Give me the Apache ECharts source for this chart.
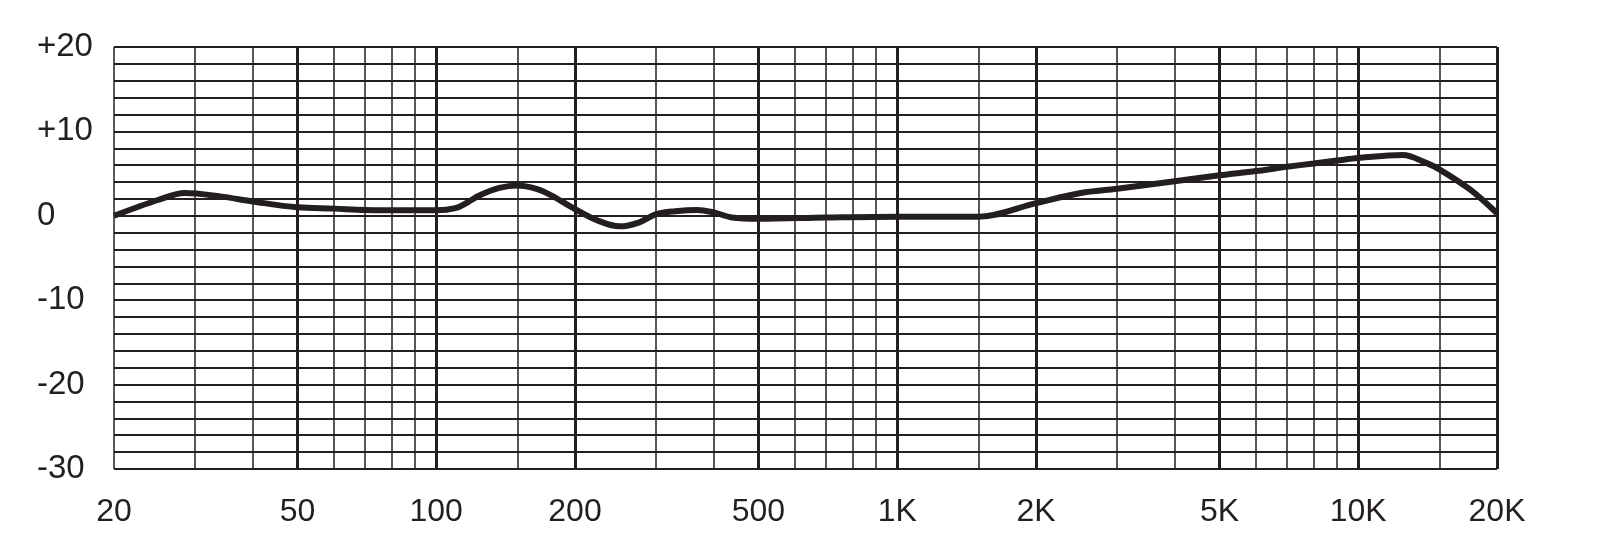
<!DOCTYPE html>
<html>
<head>
<meta charset="utf-8">
<script src="https://cdn.jsdelivr.net/npm/echarts@6/dist/echarts.min.js"></script>
<style>
  html, body { margin: 0; padding: 0; background: #fff; }
  #main { width: 1600px; height: 551px; }
</style>
</head>
<body>
<div id="main"></div>
<script>
// frequency response
const freqs = [20, 25, 28.5, 34, 40, 50, 60, 70, 85, 100, 110, 117, 124, 137, 150, 165, 178, 200, 225, 250, 275, 300, 330, 368, 400, 438, 500, 700, 1000, 1500, 2000, 2500, 3000, 4000, 5000, 6000, 7000, 8000, 9000, 10000, 12500, 14000, 15000, 17500, 20000]
const levels = [0, 1.9, 2.7, 2.3, 1.7, 1.0, 0.85, 0.7, 0.65, 0.65, 0.9, 1.6, 2.4, 3.3, 3.6, 3.2, 2.4, 0.8, -0.6, -1.25, -0.8, 0.2, 0.55, 0.7, 0.4, -0.2, -0.35, -0.2, -0.1, -0.1, 1.5, 2.7, 3.2, 4.1, 4.8, 5.3, 5.8, 6.2, 6.55, 6.85, 7.2, 6.3, 5.5, 3.1, 0.3]

// grid lines and labels
const xMinor = [20, 30, 40, 60, 70, 80, 90, 150, 300, 400, 600, 700, 800, 900, 1500, 3000, 4000, 6000, 7000, 8000, 9000, 15000]
const xMajor = [50, 100, 200, 500, 1000, 2000, 5000, 10000, 20000]
const xLabelValues = [20, 50, 100, 200, 500, 1000, 2000, 5000, 10000, 20000]
const yLabelValues = [-30, -20, -10, 0, 10, 20]

const ink = '#231f20'
const font = '"Liberation Sans", Arial, sans-serif'

let chart = echarts.init(document.getElementById('main'))
chart.setOption({
  animation: false,
  grid: {
    left: 114,
    right: 103,
    top: 47,
    bottom: 82,
    outerBoundsMode: 'none'
  },
  xAxis: [{
    type: 'log',
    position: 'bottom',
    min: 20,
    max: 20000,
    axisLine: { show: false },
    axisTick: { show: false, customValues: xMinor },
    axisLabel: { show: false },
    splitLine: { show: true, lineStyle: { color: ink, width: 1.5 } }
  }, {
    type: 'log',
    position: 'bottom',
    min: 20,
    max: 20000,
    axisLine: { show: false },
    axisTick: { show: false, customValues: xMajor },
    axisLabel: {
      customValues: xLabelValues,
      margin: 27,
      color: ink,
      fontSize: 32,
      fontFamily: font,
      formatter: function (v) {
        return v >= 1000 ? (v / 1000) + 'K' : String(v)
      }
    },
    splitLine: { show: true, lineStyle: { color: ink, width: 3 } }
  }],
  yAxis: {
    type: 'value',
    min: -30,
    max: 20,
    interval: 2,
    axisLine: { show: false },
    axisTick: { show: false },
    axisLabel: {
      customValues: yLabelValues,
      align: 'left',
      margin: 77,
      color: ink,
      fontSize: 33,
      fontFamily: font,
      formatter: function (v) {
        return v > 0 ? '+' + v : String(v)
      }
    },
    splitLine: { show: true, lineStyle: { color: ink, width: 2 } }
  },
  series: [{
    type: 'line',
    xAxisIndex: 1,
    data: freqs.map((f, i) => [f, levels[i]]),
    showSymbol: false,
    smooth: 0.35,
    lineStyle: { color: ink, width: 6 },
    z: 5
  }]
})
</script>
</body>
</html>
